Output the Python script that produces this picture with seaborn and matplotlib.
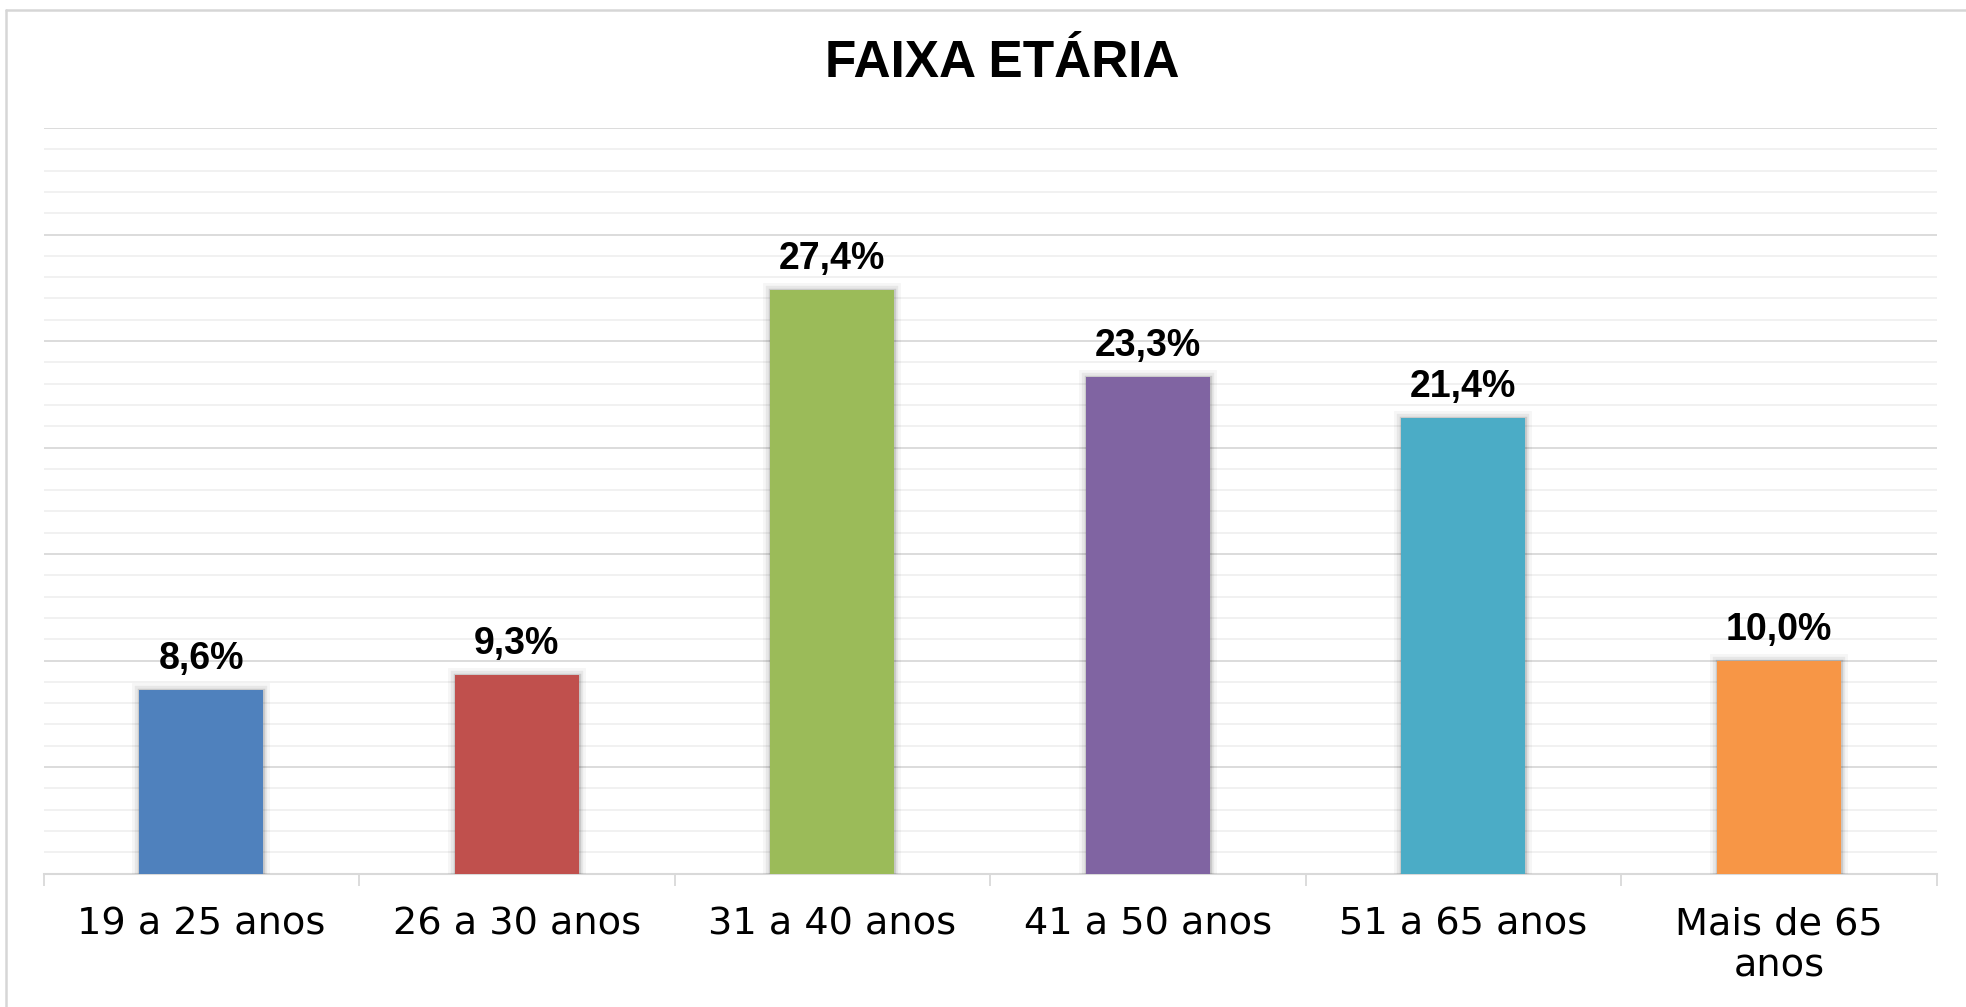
import matplotlib
matplotlib.use("Agg")
import matplotlib.pyplot as plt
import matplotlib.patheffects as pe
import matplotlib.transforms as mtransforms
from matplotlib.lines import Line2D
from matplotlib.ticker import MultipleLocator, FixedLocator
from matplotlib import font_manager
import seaborn as sns
import pandas as pd

# ---- data ----
categories = ["19 a 25 anos", "26 a 30 anos", "31 a 40 anos", "41 a 50 anos",
              "51 a 65 anos", "Mais de 65\nanos"]
values = [8.6, 9.3, 27.4, 23.3, 21.4, 10.0]
value_labels = ["8,6%", "9,3%", "27,4%", "23,3%", "21,4%", "10,0%"]
colors = ["#4F81BD", "#C0504D", "#9BBB59", "#8064A2", "#4BACC6", "#F79646"]
title = "FAIXA ETÁRIA"

sns.set_theme(style="white")
plt.rcParams["font.family"] = ["DejaVu Sans"]

names = {f.name for f in font_manager.fontManager.ttflist}
narrow = "Liberation Sans Narrow" if "Liberation Sans Narrow" in names else None

W, H, DPI = 1966, 1007, 100
fig = plt.figure(figsize=(W / DPI, H / DPI), dpi=DPI)
fig.patch.set_facecolor("white")

left, right, top, bottom = 43.5, 1936.7, 127.7, 873.5
ax = fig.add_axes([left / W, (H - bottom) / H, (right - left) / W, (bottom - top) / H])

df = pd.DataFrame({"cat": categories, "val": values})
sns.barplot(data=df, x="cat", y="val", hue="cat", palette=colors, width=0.393,
            legend=False, ax=ax, saturation=1, linewidth=0, zorder=3)

shadow = [pe.Stroke(linewidth=10, foreground="black", alpha=0.035),
          pe.Stroke(linewidth=6, foreground="black", alpha=0.06),
          pe.Stroke(linewidth=2.5, foreground="black", alpha=0.12),
          pe.Normal()]
for p in ax.patches:
    p.set_path_effects(shadow)

ax.set_ylim(0, 35.02)
ax.set_xlim(-0.5, len(categories) - 0.5)

# gridlines
ax.yaxis.set_major_locator(MultipleLocator(5))
ax.yaxis.set_minor_locator(MultipleLocator(1))
ax.grid(which="major", axis="y", color="#d9d9d9", linewidth=1.3, zorder=0)
ax.grid(which="minor", axis="y", color="#f0f0f0", linewidth=1.3, zorder=0)
ax.set_axisbelow(True)
ax.tick_params(axis="y", which="both", left=False, labelleft=False, length=0)

# x axis
for s in ["top", "right", "left"]:
    ax.spines[s].set_visible(False)
ax.spines["bottom"].set_color("#d9d9d9")
ax.spines["bottom"].set_linewidth(1.5)
ax.set_xlabel("")
ax.set_ylabel("")
ax.set_xticks(range(len(categories)))
ax.set_xticklabels(categories, fontsize=27.5, color="black", linespacing=1.2)
ax.xaxis.set_minor_locator(FixedLocator([i - 0.5 for i in range(len(categories) + 1)]))
ax.tick_params(axis="x", which="major", length=0, pad=24)
ax.tick_params(axis="x", which="minor", bottom=True, length=8.6, width=1.3, color="#d9d9d9")

# value labels
off = mtransforms.offset_copy(ax.transData, fig=fig, x=0, y=21, units="dots")
for i, (v, lab) in enumerate(zip(values, value_labels)):
    if narrow:
        ax.text(i, v, lab, transform=off, ha="center", va="baseline",
                fontsize=34, fontweight="bold", family=narrow, color="black")
    else:
        ax.text(i, v, lab, transform=off, ha="center", va="baseline",
                fontsize=27, fontweight="bold", family="Liberation Sans", color="black")

# title
fig.text(1002 / W, 1 - 76.7 / H, title, ha="center", va="baseline",
         fontsize=37, fontweight="bold", family="Liberation Sans", color="black")

# chart border
fig.add_artist(Line2D([5.5 / W, 5.5 / W], [0, 1 - 9.5 / H], color="#d6d6d6", linewidth=1.8))
fig.add_artist(Line2D([5.5 / W, 1], [1 - 9.5 / H, 1 - 9.5 / H], color="#d6d6d6", linewidth=1.8))

fig.savefig("out.png", dpi=DPI, facecolor="white")
